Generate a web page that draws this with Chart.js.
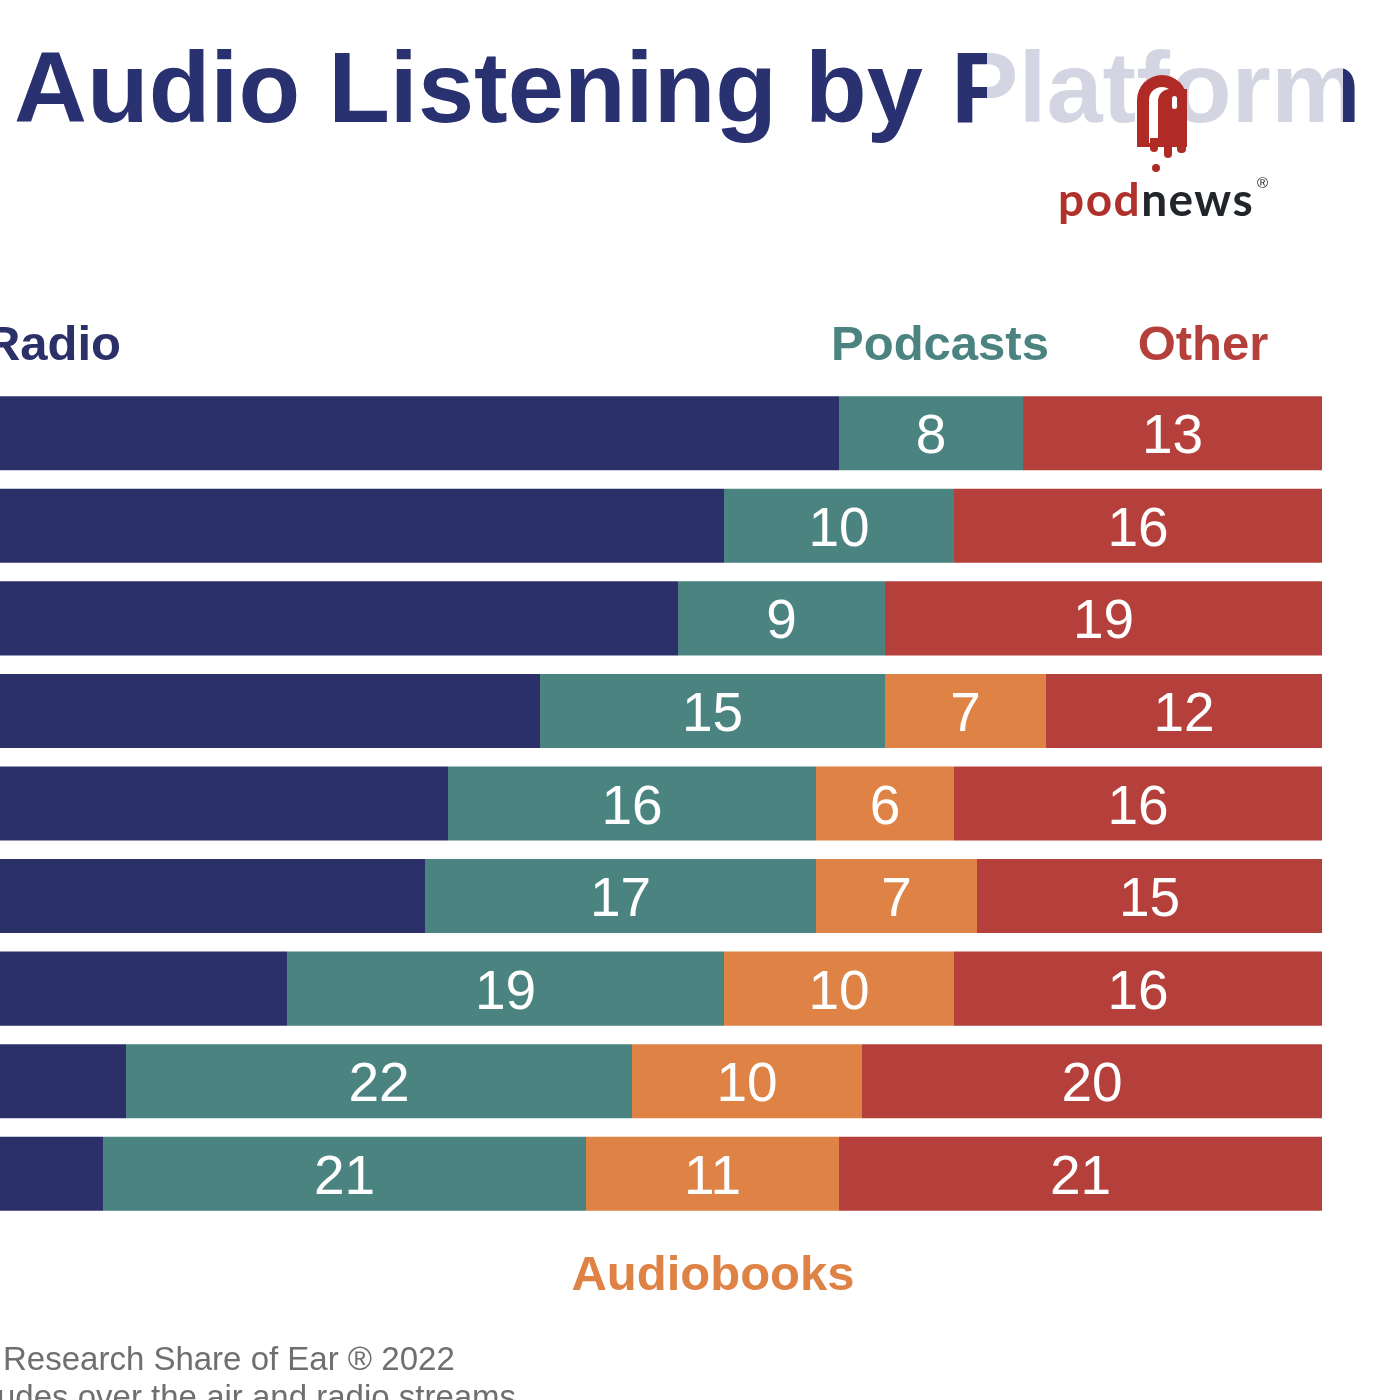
<!DOCTYPE html>
<html>
<head>
<meta charset="utf-8">
<script src="https://cdn.jsdelivr.net/npm/chart.js@4/dist/chart.umd.min.js"></script>
<style>
  html, body { margin: 0; padding: 0; background: #ffffff; }
  #wrap { width: 1400px; height: 1400px; position: relative; overflow: hidden; }
  canvas { display: block; }
</style>
</head>
<body>
<div id="wrap"><canvas id="c" width="1400" height="1400"></canvas></div>
<script>
// Row labels are outside the visible crop of the reference (hidden axis)
const categories = ['1', '2', '3', '4', '5', '6', '7', '8', '9'];
const seriesNames = ['Radio', 'Podcasts', 'Audiobooks', 'Other'];
const radio      = [79, 74, 72, 66, 62, 61, 55, 48, 47];
const podcasts   = [8, 10, 9, 15, 16, 17, 19, 22, 21];
const audiobooks = [0, 0, 0, 7, 6, 7, 10, 10, 11];
const other      = [13, 16, 19, 12, 16, 15, 16, 20, 21];
const titleText = 'Audio Listening by Platform';
const footerLines = ['Research Share of Ear \u00AE 2022', 'udes over the air and radio streams'];

const colors = {
  Radio: '#2b3168',
  Podcasts: '#4b8381',
  Audiobooks: '#df8245',
  Other: '#b5403b'
};
const FONT = '"Liberation Sans", Arial, Helvetica, sans-serif';

const dataLabels = {
  id: 'dataLabels',
  afterDatasetsDraw(chart) {
    const ctx = chart.ctx;
    const area = chart.chartArea;
    ctx.save();
    ctx.font = '55px ' + FONT;
    ctx.fillStyle = '#ffffff';
    ctx.textAlign = 'center';
    ctx.textBaseline = 'alphabetic';
    chart.data.datasets.forEach((ds, di) => {
      const meta = chart.getDatasetMeta(di);
      meta.data.forEach((el, i) => {
        const v = ds.data[i];
        if (!v) return;
        const cx = (el.x + el.base) / 2;
        if (cx < area.left || cx > area.right) return;
        ctx.fillText(String(v), cx, el.y + 20);
      });
    });
    ctx.restore();
  }
};

const decorations = {
  id: 'decorations',
  afterDraw(chart) {
    const ctx = chart.ctx;
    ctx.save();
    // Title
    ctx.font = 'bold 101px ' + FONT;
    ctx.fillStyle = '#2a3170';
    ctx.textAlign = 'left';
    ctx.textBaseline = 'alphabetic';
    ctx.fillText(titleText, 14, 122);

    // Watermark veil over the title
    ctx.fillStyle = 'rgba(255,255,255,0.8)';
    ctx.fillRect(987, 30, 356, 110);

    // podnews logo mark
    const red = '#b12b26';
    ctx.fillStyle = red;
    ctx.beginPath(); ctx.roundRect(1137, 75, 50, 72, [25, 25, 0, 0]); ctx.fill();
    ctx.fillStyle = '#ffffff';
    ctx.beginPath(); ctx.roundRect(1149, 87, 26, 56, [13, 13, 0, 0]); ctx.fill();
    ctx.fillStyle = red;
    ctx.beginPath(); ctx.roundRect(1158, 89, 29, 56, [12, 0, 0, 0]); ctx.fill();
    ctx.fillStyle = '#ffffff';
    ctx.beginPath(); ctx.roundRect(1172, 96, 5, 13, 2.5); ctx.fill();
    ctx.fillStyle = red;
    ctx.beginPath(); ctx.roundRect(1150, 138, 8, 14, [0, 0, 4, 4]); ctx.fill();
    ctx.beginPath(); ctx.roundRect(1164, 138, 8, 20, [0, 0, 4, 4]); ctx.fill();
    ctx.beginPath(); ctx.roundRect(1177, 138, 9, 15, [0, 0, 4, 4]); ctx.fill();
    ctx.beginPath(); ctx.arc(1156, 168, 4, 0, Math.PI * 2); ctx.fill();

    // podnews wordmark
    ctx.font = 'bold 46px Lato, ' + FONT;
    ctx.letterSpacing = '1.5px';
    ctx.textAlign = 'left';
    ctx.fillStyle = '#b0302b';
    ctx.fillText('pod', 1058, 216);
    const w = ctx.measureText('pod').width;
    ctx.fillStyle = '#22252b';
    ctx.fillText('news', 1058 + w, 216);
    ctx.letterSpacing = '0px';
    const w2 = ctx.measureText('news').width;
    ctx.font = '15px ' + FONT;
    ctx.fillText('\u00AE', 1257, 188);

    // Series labels
    ctx.font = 'bold 49px ' + FONT;
    ctx.textAlign = 'right';
    ctx.fillStyle = colors.Radio;
    ctx.fillText(seriesNames[0], 121, 360);
    ctx.textAlign = 'center';
    ctx.fillStyle = colors.Podcasts;
    ctx.fillText(seriesNames[1], 940, 360);
    ctx.fillStyle = colors.Other;
    ctx.fillText(seriesNames[3], 1203, 360);
    ctx.fillStyle = colors.Audiobooks;
    ctx.fillText(seriesNames[2], 713, 1290);

    // Footer
    ctx.font = '33px ' + FONT;
    ctx.fillStyle = '#6f6f6f';
    ctx.textAlign = 'left';
    ctx.fillText(footerLines[0], 3, 1370);
    ctx.fillText(footerLines[1], -3, 1408);
    ctx.restore();
  }
};

new Chart(document.getElementById('c'), {
  type: 'bar',
  data: {
    labels: categories,
    datasets: [
      { label: seriesNames[0], data: radio, backgroundColor: colors.Radio },
      { label: seriesNames[1], data: podcasts, backgroundColor: colors.Podcasts },
      { label: seriesNames[2], data: audiobooks, backgroundColor: colors.Audiobooks },
      { label: seriesNames[3], data: other, backgroundColor: colors.Other }
    ]
  },
  options: {
    indexAxis: 'y',
    responsive: false,
    animation: false,
    devicePixelRatio: 1,
    layout: { padding: { left: 0, right: 78, top: 387, bottom: 180 } },
    datasets: { bar: { barPercentage: 0.8, categoryPercentage: 1.0, borderWidth: 0 } },
    scales: {
      x: { stacked: true, min: 42.52, max: 100, display: false, grid: { display: false } },
      y: { stacked: true, display: false, grid: { display: false } }
    },
    plugins: {
      legend: { display: false },
      tooltip: { enabled: false },
      title: { display: false }
    }
  },
  plugins: [dataLabels, decorations]
});
</script>
</body>
</html>
